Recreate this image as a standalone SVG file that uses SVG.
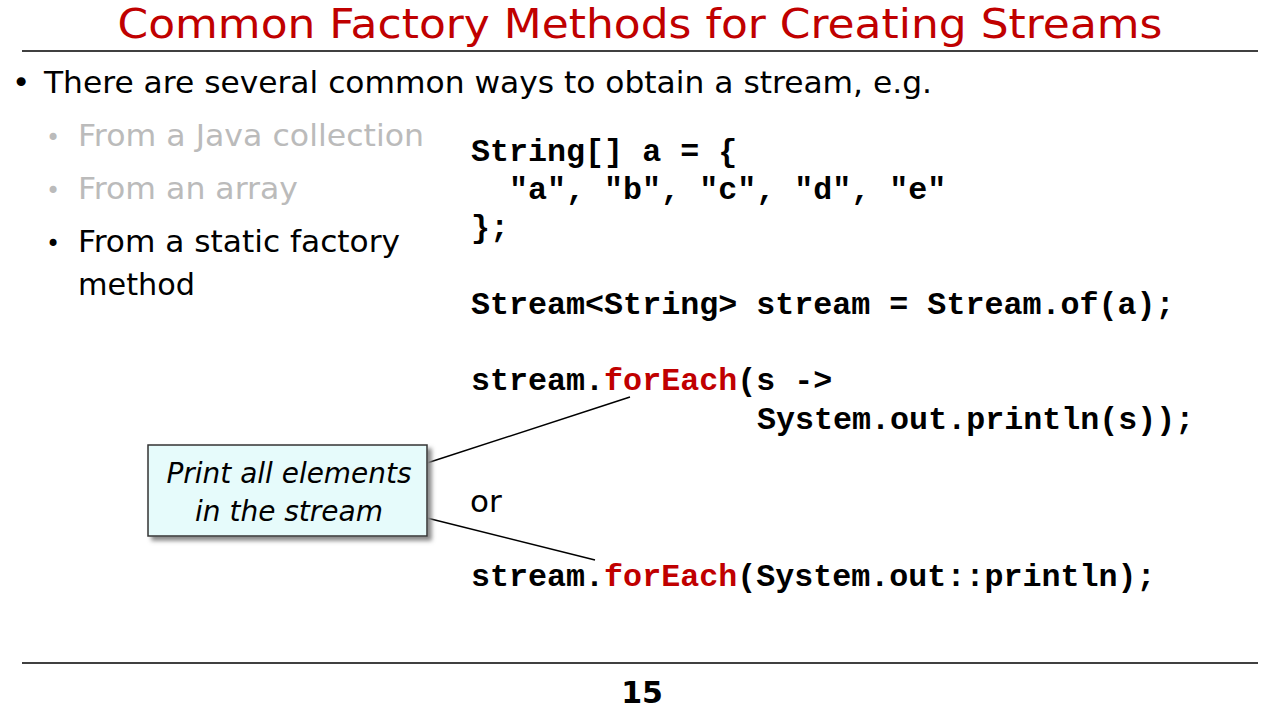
<svg xmlns="http://www.w3.org/2000/svg" width="1280" height="720" viewBox="0 0 1280 720">
<style>
.t{font-family:"DejaVu Sans",sans-serif}
.code{font-family:"Liberation Mono",monospace;font-weight:bold;font-size:31.7px;fill:#000}
.red{fill:#c00000}
.b{font-family:"DejaVu Sans",sans-serif;font-size:31px}
</style>
<defs><filter id="sh" x="-10%" y="-10%" width="130%" height="130%"><feDropShadow dx="4" dy="4" stdDeviation="2" flood-color="#888"/></filter></defs>
<rect width="1280" height="720" fill="#fff"/>
<text x="640" y="38" text-anchor="middle" class="t" font-size="41" fill="#c00000" textLength="1045" lengthAdjust="spacingAndGlyphs">Common Factory Methods for Creating Streams</text>
<line x1="22" y1="51" x2="1258" y2="51" stroke="#000" stroke-width="1.5"/>
<line x1="22" y1="663" x2="1258" y2="663" stroke="#000" stroke-width="1.5"/>
<text x="12" y="93" class="b">•</text>
<text x="44" y="93" class="b" textLength="888" lengthAdjust="spacingAndGlyphs">There are several common ways to obtain a stream, e.g.</text>
<g class="b" fill="#bbb">
<text x="46" y="146" font-size="24">•</text><text x="78" y="146" textLength="346" lengthAdjust="spacingAndGlyphs">From a Java collection</text>
<text x="46" y="199" font-size="24">•</text><text x="78" y="199" textLength="220" lengthAdjust="spacingAndGlyphs">From an array</text>
</g>
<g class="b" fill="#000">
<text x="46" y="252" font-size="24">•</text><text x="78" y="252" textLength="322" lengthAdjust="spacingAndGlyphs">From a static factory</text>
<text x="78" y="295" textLength="117" lengthAdjust="spacingAndGlyphs">method</text>
</g>
<g class="code">
<text x="471" y="161">String[] a = {</text>
<text x="509" y="199">"a", "b", "c", "d", "e"</text>
<text x="471" y="237">};</text>
<text x="471" y="314">Stream&lt;String&gt; stream = Stream.of(a);</text>
<text x="471" y="390">stream.<tspan class="red">forEach</tspan>(s -&gt;</text>
<text x="757" y="429">System.out.println(s));</text>
<text x="471" y="586">stream.<tspan class="red">forEach</tspan>(System.out::println);</text>
</g>
<text x="470" y="512" class="b">or</text>
<g id="connectors" stroke="#000" stroke-width="1.5">
<line x1="427" y1="463" x2="630" y2="397"/>
<line x1="427" y1="518" x2="595" y2="560"/>
</g>
<g id="callout">
<rect x="148" y="445" width="279" height="91" fill="#e6fbfb" stroke="#333" stroke-width="1.5" filter="url(#sh)"/>
<text x="289" y="483" text-anchor="middle" class="t" font-style="italic" font-size="28" textLength="245" lengthAdjust="spacingAndGlyphs">Print all elements</text>
<text x="289" y="521" text-anchor="middle" class="t" font-style="italic" font-size="28" textLength="188" lengthAdjust="spacingAndGlyphs">in the stream</text>
</g>
<text x="642" y="703" text-anchor="middle" class="t" font-weight="bold" font-size="30">15</text>
</svg>
